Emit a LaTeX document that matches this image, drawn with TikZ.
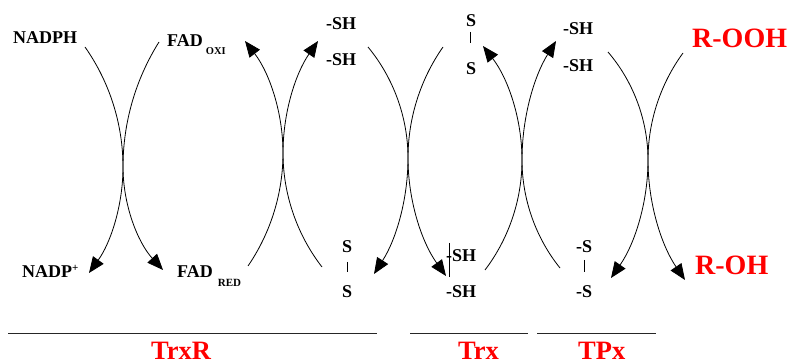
\documentclass[tikz,border=0pt]{standalone}
\usepackage{fontspec}
\setmainfont{Liberation Serif}
\usetikzlibrary{arrows.meta,calc}
\definecolor{rxred}{RGB}{255,0,0}
\tikzset{
  lbl/.style={font=\fontsize{18}{18}\selectfont\bfseries, inner sep=0pt, anchor=base west},
  redlbl/.style={font=\fontsize{28}{28}\selectfont\bfseries, text=rxred, inner sep=0pt, anchor=base west},
  grplbl/.style={font=\fontsize{26.5}{26.5}\selectfont\bfseries, text=rxred, inner sep=0pt, anchor=base west},
  arr/.style={line width=0.8pt, -{Triangle[length=16pt,width=13pt]}},
  bond/.style={line width=0.6pt},
  rule/.style={line width=1pt, black!85}
}
\newcommand{\subsz}[1]{{\fontsize{11}{11}\selectfont #1}}
\begin{document}
\begin{tikzpicture}[x=1pt,y=-1pt]
\useasboundingbox (0,0) rectangle (787,363);
% labels
\node[lbl] (nadph) at (13,44) {NADPH};
\node[lbl] (fadoxi) at (167,47) {FAD\kern3pt\raisebox{-8pt}{\fontsize{10.5}{10.5}\selectfont OXI}};
\node[lbl] (nadpp) at (22,278) {NADP\raisebox{6pt}{\subsz{+}}};
\node[lbl] (fadred) at (177,278) {FAD\kern5pt\raisebox{-9pt}{\subsz{RED}}};
% TrxR -SH
\node[lbl] (rSHa) at (326,30) {-SH};
\node[lbl] (rSHb) at (326,66) {-SH};
% TrxR S-S bottom
\node[lbl] (rSa) at (342,253) {S};
\node[lbl] (rSb) at (342,298) {S};
\draw[bond] ($(rSa.base)+(0,9)$) -- ++(0,10);
% Trx S-S top
\node[lbl] (tSa) at (466,27) {S};
\node[lbl] (tSb) at (466,75) {S};
\draw[bond] ($(tSa.base)+(-1,5)$) -- ++(0,11);
% Trx -SH bottom
\node[lbl] (tSHa) at (446,262) {-SH};
\node[lbl] (tSHb) at (446,298) {-SH};
\draw[bond] ($(tSHa.base west)+(3,-19)$) -- ++(0,34);
% TPx -SH top
\node[lbl] (pSHa) at (563,35) {-SH};
\node[lbl] (pSHb) at (563,72) {-SH};
% TPx -S bottom
\node[lbl] (pSa) at (576,253) {-S};
\node[lbl] (pSb) at (576,298) {-S};
\draw[bond] ($(pSa.base west)+(8,7)$) -- ++(0,12);
% red
\node[redlbl] (rooh) at (692,48) {R-OOH};
\node[redlbl] (roh) at (695,275) {R-OH};
% group rules and labels
\coordinate (l1a) at (8,333); \coordinate (l1b) at (377,333);
\coordinate (l2a) at (410,333); \coordinate (l2b) at (528,333);
\coordinate (l3a) at (537,333); \coordinate (l3b) at (656,333);
\draw[rule] (l1a) -- (l1b);
\draw[rule] (l2a) -- (l2b);
\draw[rule] (l3a) -- (l3b);
\node[grplbl] (gTrxR) at (151,359.5) {TrxR};
\node[grplbl] (gTrx) at (458,359.5) {Trx};
\node[grplbl] (gTPx) at (578,359.5) {TPx};
% arc coordinates
\coordinate (a1s) at (85,47);  \coordinate (a1m) at (123,167); \coordinate (a1e) at (89,273);
\coordinate (a2s) at (159,42); \coordinate (a2m) at (123,167); \coordinate (a2e) at (163,270);
\coordinate (b1s) at (248,266); \coordinate (b1m) at (283,153); \coordinate (b1e) at (245,41);
\coordinate (b2s) at (322,267); \coordinate (b2m) at (283,153); \coordinate (b2e) at (318,41);
\coordinate (c1s) at (368,47); \coordinate (c1m) at (408,158); \coordinate (c1e) at (374,274);
\coordinate (c2s) at (443,47); \coordinate (c2m) at (408,158); \coordinate (c2e) at (446,276);
\coordinate (d1s) at (485,270); \coordinate (d1m) at (522,160); \coordinate (d1e) at (483,46);
\coordinate (d2s) at (560,268); \coordinate (d2m) at (522,160); \coordinate (d2e) at (556,41);
\coordinate (e1s) at (608,52); \coordinate (e1m) at (648,160); \coordinate (e1e) at (611,278);
\coordinate (e2s) at (683,53); \coordinate (e2m) at (648,160); \coordinate (e2e) at (685,280);
% arcs
\draw[arr] (a1s) .. controls +(24.6,35.0) and +(0,-42.8) .. (a1m) .. controls +(0,37.8) and +(22.0,-30.7) .. (a1e);
\draw[arr] (a2s) .. controls +(-23.5,37.4) and +(0,-44.2) .. (a2m) .. controls +(0,37.6) and +(-25.4,-27.7) .. (a2e);
\draw[arr] (b1s) .. controls +(22.7,-33.2) and +(0,40.2) .. (b1m) .. controls +(0,-40.2) and +(24.5,31.9) .. (b1e);
\draw[arr] (b2s) .. controls +(-25.1,-32.4) and +(0,41.0) .. (b2m) .. controls +(0,-39.9) and +(-22.7,32.8) .. (b2e);
\draw[arr] (c1s) .. controls +(25.6,30.9) and +(0,-40.1) .. (c1m) .. controls +(0,41.1) and +(22.2,-34.6) .. (c1e);
\draw[arr] (c2s) .. controls +(-22.7,32.4) and +(0,-39.6) .. (c2m) .. controls +(0,42.2) and +(-24.6,-34.3) .. (c2e);
\draw[arr] (d1s) .. controls +(23.9,-31.5) and +(0,39.5) .. (d1m) .. controls +(0,-41.0) and +(25.1,32.4) .. (d1e);
\draw[arr] (d2s) .. controls +(-24.4,-30.3) and +(0,38.9) .. (d2m) .. controls +(0,-42.1) and +(-22.2,35.7) .. (d2e);
\draw[arr] (e1s) .. controls +(25.5,29.7) and +(0,-39.2) .. (e1m) .. controls +(0,42.0) and +(24.0,-34.5) .. (e1e);
\draw[arr] (e2s) .. controls +(-22.6,30.9) and +(0,-38.3) .. (e2m) .. controls +(0,42.7) and +(-24.0,-35.3) .. (e2e);
\end{tikzpicture}
\end{document}
